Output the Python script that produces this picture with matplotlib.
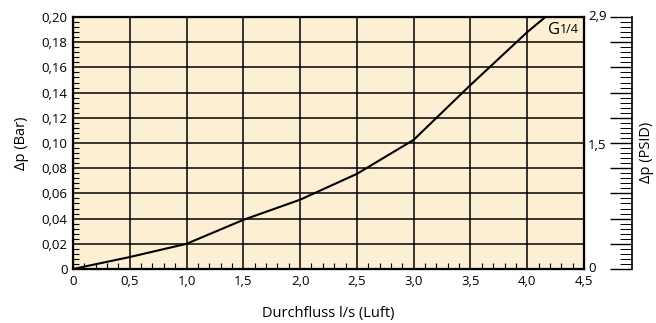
import numpy as np
import matplotlib.pyplot as plt

# flow (l/s air) vs pressure drop (bar)
flow = [0, 0.5, 1.0, 1.5, 2.0, 2.5, 3.0, 3.5, 4.0, 4.16]
dp_bar = [0, 0.0095, 0.02, 0.039, 0.055, 0.0755, 0.1025, 0.146, 0.188, 0.2]

x_ticks = [0, 0.5, 1.0, 1.5, 2.0, 2.5, 3.0, 3.5, 4.0, 4.5]
x_labels = ['0', '0,5', '1,0', '1,5', '2,0', '2,5', '3,0', '3,5', '4,0', '4,5']
y_ticks = [0, 0.02, 0.04, 0.06, 0.08, 0.10, 0.12, 0.14, 0.16, 0.18, 0.20]
y_labels = ['0', '0,02', '0,04', '0,06', '0,08', '0,10', '0,12', '0,14', '0,16', '0,18', '0,20']
psi_ticks = [0, 1.5, 2.9]
psi_labels = ['0', '1,5', '2,9']

plt.rcParams['font.family'] = ['Open Sans', 'DejaVu Sans']

fig = plt.figure(figsize=(6.56, 3.23), dpi=100)
ax = fig.add_axes([73/656, 1 - 269/323, 511/656, 252/323])
ax.set_facecolor('#fdefd4')

ax.plot(flow, dp_bar, color='black', lw=1.5, zorder=3)

ax.set_xlim(0, 4.5)
ax.set_ylim(0, 0.2)
ax.set_xticks(x_ticks)
ax.set_xticklabels(x_labels, fontsize=9.5)
ax.set_yticks(y_ticks)
ax.set_yticklabels(y_labels, fontsize=9.5)
ax.set_xticks(np.arange(0, 4.5, 0.1), minor=True)
ax.set_yticks(np.arange(0, 0.2, 0.004), minor=True)
ax.tick_params(which='major', length=0, pad=4)
ax.tick_params(which='minor', direction='in', length=4, width=0.8, top=False, right=False)
ax.grid(True, which='major', color='black', lw=1.1)
for s in ax.spines.values():
    s.set_linewidth(1.6)

ax.set_xlabel('Durchfluss l/s (Luft)', fontsize=10.5, labelpad=13)
ax.set_ylabel('Δp (Bar)', fontsize=10.5, labelpad=9)

ax.text(4.18, 0.19, 'G', fontsize=12, ha='left', va='center')
ax.text(4.29, 0.19, '1/4', fontsize=9, ha='left', va='center')

# psi labels just right of the plot
ax2 = ax.twinx()
ax2.set_ylim(0, 2.9)
ax2.set_yticks(psi_ticks)
ax2.set_yticklabels(psi_labels, fontsize=9.5)
ax2.tick_params(length=0, pad=3)
ax2.get_yticklabels()[0].set_va('center')
ax2.get_yticklabels()[1].set_va('top')
ax2.get_yticklabels()[2].set_va('center')

# separate ruler scale
axr = fig.add_axes([632/656, 1 - 269/323, 0.0001, 252/323])
axr.set_ylim(0, 0.2)
axr.set_xticks([])
axr.set_yticks(y_ticks)
axr.set_yticks(np.arange(0, 0.2, 0.004), minor=True)
axr.yaxis.tick_right()
axr.tick_params(which='major', direction='in', length=16, width=1.0, labelright=False)
axr.tick_params(which='minor', direction='in', length=9, width=0.7, labelright=False)
for side in ['left', 'top', 'bottom']:
    axr.spines[side].set_visible(False)
axr.spines['right'].set_linewidth(1.2)
axr.patch.set_visible(False)

fig.text(647/656, 1 - 152/323, 'Δp (PSID)', fontsize=10.5, rotation=90, ha='center', va='center')

fig.savefig('out.png', dpi=100)
